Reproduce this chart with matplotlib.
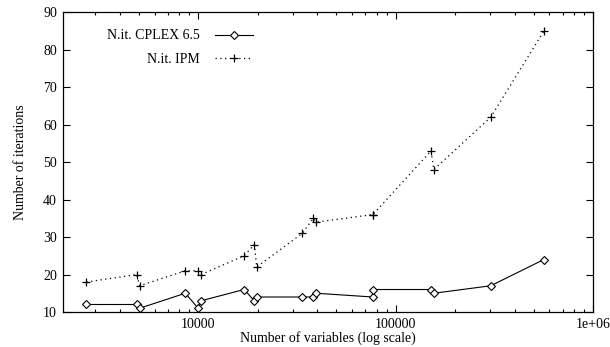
import numpy as np
import matplotlib
matplotlib.use('Agg')
import matplotlib.pyplot as plt
from matplotlib.ticker import LogLocator, FuncFormatter, MultipleLocator, NullFormatter

# number of variables (x) and iterations for the two solvers
n_vars = [2710, 4880, 5040, 8580, 9980, 10330, 17040, 19210, 19740,
          33590, 38190, 39550, 76500, 76500, 150800, 155600, 302300, 562000]
it_cplex = [12, 12, 11, 15, 11, 13, 16, 13, 14,
            14, 14, 15, 14, 16, 16, 15, 17, 24]
it_ipm = [18, 20, 17, 21, 21, 20, 25, 28, 22,
          31, 35, 34, 36, 36, 53, 48, 62, 85]

label_cplex = 'N.it. CPLEX 6.5'
label_ipm = 'N.it. IPM'

if __name__ == '__main__':
    plt.rcParams['font.family'] = ['Liberation Serif', 'DejaVu Serif']
    plt.rcParams['font.size'] = 10

    fig = plt.figure(figsize=(6.1, 3.47), dpi=100)
    ax = fig.add_axes([0.1038, 0.1009, 0.8688, 0.8636])

    l1, = ax.plot(n_vars, it_cplex, color='black', lw=0.8, marker='D',
                  markersize=3.9, markerfacecolor='white', markeredgewidth=0.8)
    l2, = ax.plot(n_vars, it_ipm, color='black', lw=0.9, linestyle=(0, (1, 2.8)),
                  marker='+', markersize=6, markeredgewidth=0.9)

    ax.set_xscale('log')
    ax.set_xlim(2070, 1e6)
    ax.set_ylim(10, 90)

    ax.xaxis.set_major_locator(LogLocator(base=10))
    ax.xaxis.set_minor_locator(LogLocator(base=10, subs=np.arange(2, 10)))
    ax.xaxis.set_major_formatter(FuncFormatter(lambda v, p: '%g' % v))
    ax.xaxis.set_minor_formatter(NullFormatter())
    ax.yaxis.set_major_locator(MultipleLocator(10))

    ax.tick_params(which='both', direction='in', top=True, right=True, labelsize=10)
    ax.tick_params(which='major', length=5, width=0.8, pad=4.5)
    ax.tick_params(which='minor', length=2.5, width=0.8)
    for s in ax.spines.values():
        s.set_linewidth(0.9)

    ax.set_xlabel('Number of variables (log scale)', labelpad=0)
    ax.set_ylabel('Number of iterations', labelpad=12)

    # gnuplot style key: right-aligned text followed by the sample
    kw = dict(loc='center right', frameon=False, markerfirst=False,
              handlelength=2.7, handletextpad=1.1, borderpad=0, borderaxespad=0,
              fontsize=10)
    leg1 = ax.legend([l1], [label_cplex], bbox_to_anchor=(0.357, 0.921), **kw)
    ax.add_artist(leg1)
    ax.legend([l2], [label_ipm], bbox_to_anchor=(0.357, 0.844), **kw)

    fig.savefig('out.png', dpi=100)
